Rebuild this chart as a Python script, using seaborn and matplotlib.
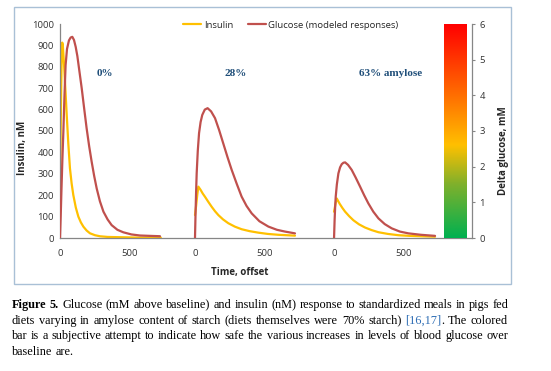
import math
import numpy as np
import pandas as pd
import matplotlib
matplotlib.use("Agg")
import matplotlib.pyplot as plt
import seaborn as sns
from matplotlib.colors import LinearSegmentedColormap
from matplotlib.lines import Line2D
from matplotlib.patches import Rectangle
from matplotlib.font_manager import FontProperties, findfont, get_font
from matplotlib.backends.backend_agg import get_hinting_flag


# ==================== DATA ====================
# time in min after the meal, insulin in nM (left axis), glucose in mM (right axis)
MEALS = ["0%", "28%", "63% amylose"]
MEAL_OFFSETS = [0, 964, 1957]          # start of each meal on the shared time axis
MEAL_LABEL_X = [320, 293, 405]         # label position inside each meal block

INS_T_0 = [0, 3, 6, 9, 12, 16, 20, 24, 29, 38, 48, 59, 71, 83, 95, 113, 131, 149, 167,
           190, 214, 250, 286, 340, 405, 480, 550, 720]
INS_V_0 = [162, 380, 560, 720, 840, 913, 900, 860, 808, 700, 575, 445, 326, 255, 201, 142,
           100, 73, 53, 35, 22, 13, 8, 5, 4, 3, 2, 2]
GLU_T_0 = [0, 5, 10, 17, 24, 32, 40, 50, 64, 76, 88, 100, 112, 124, 136, 155, 172, 190,
           208, 226, 244, 262, 285, 310, 340, 369, 410, 452, 510, 571, 640, 714]
GLU_V_0 = [0, 0.6, 1.3, 2.2, 2.98, 4.0, 4.85, 5.3, 5.54, 5.62, 5.64, 5.55, 5.36, 5.1, 4.75,
           4.2, 3.65, 3.08, 2.58, 2.14, 1.74, 1.39, 1.03, 0.74, 0.52, 0.36, 0.23, 0.16, 0.1,
           0.07, 0.06, 0.05]

INS_T_28 = [0, 8, 16, 24, 40, 55, 71, 95, 119, 143, 167, 200, 238, 285, 333, 390, 452,
            520, 595, 655, 714]
INS_V_28 = [107, 150, 200, 240, 225, 208, 193, 169, 146, 125, 107, 87, 69, 53, 41, 32, 25,
            19, 15, 13, 11]
GLU_T_28 = [0, 4, 8, 12, 20, 29, 40, 52, 70, 90, 115, 143, 172, 202, 232, 262, 298, 333,
            368, 405, 460, 524, 585, 643, 714]
GLU_V_28 = [0, 0.7, 1.3, 1.81, 2.45, 2.94, 3.25, 3.45, 3.6, 3.64, 3.55, 3.36, 3.03, 2.65,
            2.27, 1.91, 1.52, 1.16, 0.9, 0.69, 0.47, 0.32, 0.23, 0.18, 0.13]

INS_T_63 = [0, 10, 19, 40, 60, 79, 108, 138, 178, 221, 268, 317, 385, 460, 540, 626, 721]
INS_V_63 = [123, 158, 185, 160, 140, 123, 102, 83, 64, 49, 37, 27, 19, 13, 10, 8, 6]
GLU_T_63 = [0, 4, 8, 12, 20, 31, 43, 55, 67, 79, 100, 126, 155, 186, 215, 245, 280, 317,
            362, 412, 470, 531, 620, 721]
GLU_V_63 = [0, 0.5, 0.88, 1.16, 1.5, 1.81, 1.98, 2.07, 2.11, 2.12, 2.05, 1.91, 1.69, 1.44,
            1.2, 0.97, 0.74, 0.55, 0.39, 0.27, 0.18, 0.13, 0.09, 0.06]

X_TICK_LOCAL = [0, 500]
INSULIN_TICKS = list(range(0, 1001, 100))
GLUCOSE_TICKS = [0, 1, 2, 3, 4, 5, 6]

# safety bar: delta glucose (mM) -> colour
SAFETY_STOPS = [0.0, 1.5, 2.6, 3.8, 6.0]
SAFETY_COLORS = ["#00b050", "#7fb02c", "#ffc000", "#ff7a00", "#ff0000"]

CAPTION = [
    "Figure 5. Glucose (mM above baseline) and insulin (nM) response to standardized meals in pigs fed",
    "diets varying in amylose content of starch (diets themselves were 70% starch) [16,17]. The colored",
    "bar is a subjective attempt to indicate how safe the various increases in levels of blood glucose over",
    "baseline are.",
]
BOLD_WORDS = {"Figure", "5."}

INSULIN_COLOR = "#ffc000"
GLUCOSE_COLOR = "#c0504d"
LABEL_BLUE = "#1f4e79"
LINK_BLUE = "#2f6eb5"
AXIS_GRAY = "#868686"


def long_frame(times, values, meal):
    off = MEAL_OFFSETS[MEALS.index(meal)]
    return pd.DataFrame({"time": np.asarray(times) + off, "value": values, "meal": meal})


insulin = pd.concat([long_frame(INS_T_0, INS_V_0, "0%"),
                     long_frame(INS_T_28, INS_V_28, "28%"),
                     long_frame(INS_T_63, INS_V_63, "63% amylose")])
glucose = pd.concat([long_frame(GLU_T_0, GLU_V_0, "0%"),
                     long_frame(GLU_T_28, GLU_V_28, "28%"),
                     long_frame(GLU_T_63, GLU_V_63, "63% amylose")])


# ==================== FIGURE ====================
sns.set_style("white")
plt.rcParams["font.family"] = ["Open Sans", "DejaVu Sans"]

W, H, DPI = 551, 371, 100
fig = plt.figure(figsize=(W / DPI, H / DPI), dpi=DPI)
# axes box in pixel terms: x 60..471.7, y 24..238
ax = fig.add_axes([60 / W, 1 - 238 / H, 411.7 / W, 214 / H])
ax2 = ax.twinx()

sns.lineplot(data=insulin, x="time", y="value", units="meal", estimator=None, sort=False,
             color=INSULIN_COLOR, lw=1.6, ax=ax, legend=False)
sns.lineplot(data=glucose, x="time", y="value", units="meal", estimator=None, sort=False,
             color=GLUCOSE_COLOR, lw=1.6, ax=ax2, legend=False)

# colored safety bar, spanning the glucose scale
cmap = LinearSegmentedColormap.from_list(
    "safety", list(zip(np.array(SAFETY_STOPS) / SAFETY_STOPS[-1], SAFETY_COLORS)))
grad = np.linspace(0, 1, 256).reshape(-1, 1)
ax2.imshow(grad, cmap=cmap, origin="lower", aspect="auto",
           extent=[2743, 2905, GLUCOSE_TICKS[0], GLUCOSE_TICKS[-1]], zorder=1)

ax.set_xlim(0, 2940)
ax.set_ylim(0, 1000)
ax2.set_ylim(0, 6)

xt = [o + t for o in MEAL_OFFSETS for t in X_TICK_LOCAL]
ax.set_xticks(xt)
ax.set_xticklabels([str(t) for _ in MEAL_OFFSETS for t in X_TICK_LOCAL])
ax.set_yticks(INSULIN_TICKS)
ax2.set_yticks(GLUCOSE_TICKS)

ax.tick_params(axis="x", length=0, pad=8, labelsize=6.8, colors="#333333")
ax.tick_params(axis="y", length=0, pad=4.3, labelsize=6.8, colors="#333333")
ax2.tick_params(axis="y", length=2.5, width=0.8, color=AXIS_GRAY, pad=3,
                labelsize=6.8, labelcolor="#333333")

for name, sp in ax.spines.items():
    sp.set_visible(name in ("left", "bottom"))
    sp.set_color(AXIS_GRAY)
    sp.set_linewidth(0.9)
for name, sp in ax2.spines.items():
    sp.set_visible(name == "right")
    sp.set_color(AXIS_GRAY)
    sp.set_linewidth(0.9)

ax.set_xlabel("Time, offset", fontsize=7, fontweight="bold")
ax.xaxis.set_label_coords(0.437, -0.137)
ax.set_ylabel("Insulin, nM", fontsize=7, fontweight="bold")
ax.yaxis.set_label_coords(-0.077, 0.42)
ax2.set_ylabel("Delta glucose, mM", fontsize=7, fontweight="bold")
ax2.yaxis.set_label_coords(1.063, 0.41)

# meal labels
for meal, off, lx in zip(MEALS, MEAL_OFFSETS, MEAL_LABEL_X):
    ax.text(off + lx, 770, meal, ha="center", va="center", fontsize=8, fontweight="bold",
            family="Liberation Serif", color=LABEL_BLUE)

handles = [Line2D([], [], color=INSULIN_COLOR, lw=1.6),
           Line2D([], [], color=GLUCOSE_COLOR, lw=1.6)]
fig.legend(handles, ["Insulin", "Glucose (modeled responses)"], loc="center",
           bbox_to_anchor=(291 / W, 1 - 25 / H), ncol=2, frameon=False, fontsize=6.8,
           handlelength=1.9, handletextpad=0.3, columnspacing=1.5)

# chart frame
fig.patches.append(Rectangle((14 / W, 1 - 284 / H), (510.7 - 14) / W, (284 - 7) / H,
                             transform=fig.transFigure, fill=False,
                             edgecolor="#a9c0d6", lw=1.0))


# ==================== CAPTION (justified) ====================
renderer = fig.canvas.get_renderer()
CAP_LEFT, CAP_RIGHT = 12, 508
CAP_BASELINES = [308, 324, 339, 355]
CAP_FAMILY = "Liberation Serif"


def pieces_for(word):
    if word.startswith("[") and "]" in word:
        i = word.index("]") + 1
        return [(word[:i], LINK_BLUE, "normal"), (word[i:], "black", "normal")]
    weight = "bold" if word in BOLD_WORDS else "normal"
    return [(word, "black", weight)]


def text_width(s, weight, size):
    t = fig.text(0, 0, s, fontweight=weight, family=CAP_FAMILY, fontsize=size)
    w = t.get_window_extent(renderer).width
    t.remove()
    return w


def snapped_baseline(s, weight, size, target):
    # Agg rounds each word's bitmap by its own descent, which makes single words
    # hop by a pixel; shift the anchor so every word lands on the same row
    prop = FontProperties(family=CAP_FAMILY, weight=weight, size=size)
    font = get_font(findfont(prop))
    font.clear()
    font.set_size(size, DPI)
    font.set_text(s, 0.0, flags=get_hinting_flag())
    d = font.get_descent() / 64
    ymax = font.get_width_height()[1] / 64 - d
    return target - math.floor(ymax) + math.floor(ymax + d) - d


# pick a size so the longest full line fills the text block with normal spacing
natural = max(text_width(l, "normal", 10) for l in CAPTION[:-1])
cap_size = 10 * (CAP_RIGHT - CAP_LEFT) * 0.985 / natural

space_w = text_width("a a", "normal", cap_size) - text_width("aa", "normal", cap_size)
for li, (line, base) in enumerate(zip(CAPTION, CAP_BASELINES)):
    words = [pieces_for(w) for w in line.split(" ")]
    widths = [[text_width(s, wt, cap_size) if s else 0 for s, _, wt in p] for p in words]
    total = sum(sum(w) for w in widths)
    last = li == len(CAPTION) - 1
    gap = space_w if last else (CAP_RIGHT - CAP_LEFT - total) / (len(words) - 1)
    x = CAP_LEFT
    for p, ws in zip(words, widths):
        for (s, col, wt), w in zip(p, ws):
            if s:
                y = snapped_baseline(s, wt, cap_size, base)
                fig.text(x / W, 1 - y / H, s, color=col, fontweight=wt, family=CAP_FAMILY,
                         fontsize=cap_size, va="baseline", ha="left")
            x += w
        x += gap

fig.savefig("out.png", dpi=DPI)
